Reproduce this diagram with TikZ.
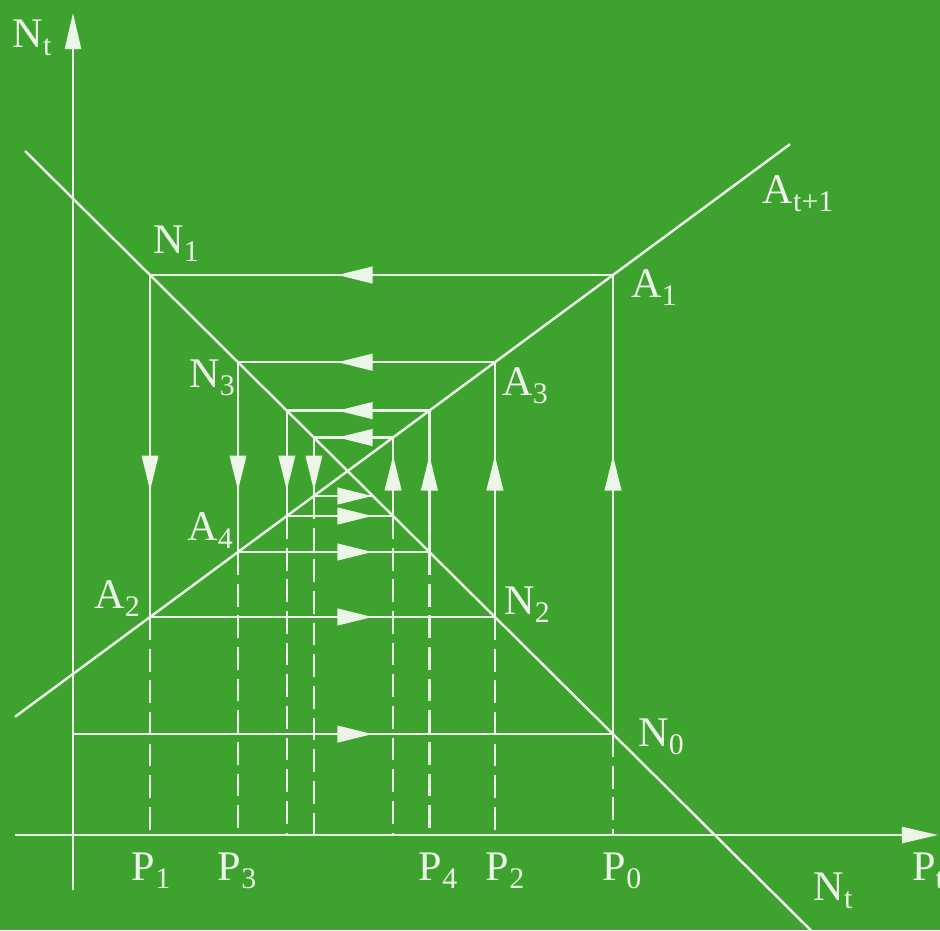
\documentclass[tikz,border=0pt]{standalone}
\usepackage{fontspec}
\setmainfont{Liberation Serif}
\usetikzlibrary{arrows.meta,calc}
\definecolor{felt}{RGB}{62,162,46}
\definecolor{chalk}{RGB}{236,246,232}
\tikzset{
  ax/.style={chalk,line width=0.7pt,-{Triangle[length=0.36cm,width=0.16cm]}},
  ln/.style={chalk,line width=0.7pt},
  cob/.style={chalk,line width=0.7pt},
  drop/.style={chalk,line width=0.7pt,dash pattern=on 6.5pt off 2.5pt},
  head/.style={chalk,line width=0.7pt,-{Triangle[length=0.35cm,width=0.165cm]}},
  lab/.style={text=chalk,inner sep=0pt,anchor=base,font=\fontsize{12}{14}\selectfont}
}
\newcommand{\lowsub}[1]{\raisebox{-2.5pt}{\fontsize{8.5}{10}\selectfont #1}}
\newcommand{\cobstep}[2]{\draw[cob] (#1) -- (#2);
  \path ($(#1)!(mid)!(#2)$) coordinate (h);
  \draw[head] ($(h)!0.175cm!(#1)$) -- ($(h)!0.175cm!(#2)$);}

\begin{document}
\begin{tikzpicture}[x=0.01cm,y=-0.01cm]
\fill[felt] (0,0) rectangle (940,930);
\useasboundingbox (0,0) rectangle (940,930);
% axes
\coordinate (O) at (73,835);
\coordinate (ybot) at (73,890); \coordinate (ytop) at (73,13);
\coordinate (xlft) at (15,835); \coordinate (xrgt) at (938,835);
\draw[ax] (ybot) -- (ytop);
\draw[ax] (xlft) -- (xrgt);
% the two lines
\coordinate (a0) at (15,716.8); \coordinate (a1) at (790,144.2);
\coordinate (n0) at (25,151); \coordinate (n1) at (815,934.4);
\draw[ln] (a0) -- (a1); \draw[ln] (n0) -- (n1);
% cobweb corners
\coordinate (mid) at (355,473);
\coordinate (N0) at (613,734.1); \coordinate (A1) at (613,275.0);
\coordinate (N1) at (150.1,275.0); \coordinate (A2) at (150.1,617.0);
\coordinate (N2) at (494.9,617.0); \coordinate (A3) at (494.9,362.2);
\coordinate (N3) at (238.0,362.2); \coordinate (A4) at (238.0,552.0);
\coordinate (N4) at (429.4,552.0); \coordinate (A5) at (429.4,410.6);
\coordinate (N5) at (286.8,410.6); \coordinate (A6) at (286.8,516.0);
\coordinate (N6) at (393.1,516.0); \coordinate (A7) at (393.1,437.5);
\coordinate (N7) at (313.9,437.5); \coordinate (A8) at (313.9,496.0);
\coordinate (N8) at (372.9,496.0);
\coordinate (s) at (N0 -| O);
\cobstep{s}{N0} \cobstep{N0}{A1} \cobstep{A1}{N1} \cobstep{N1}{A2}
\cobstep{A2}{N2} \cobstep{N2}{A3} \cobstep{A3}{N3} \cobstep{N3}{A4}
\cobstep{A4}{N4} \cobstep{N4}{A5} \cobstep{A5}{N5} \cobstep{N5}{A6}
\cobstep{A6}{N6} \cobstep{N6}{A7} \cobstep{A7}{N7} \cobstep{N7}{A8}
\cobstep{A8}{N8}
% drops to the price axis
\draw[drop] (N0) -- (N0 |- O); \draw[drop] (A2) -- (A2 |- O);
\draw[drop] (N2) -- (N2 |- O); \draw[drop] (A4) -- (A4 |- O);
\draw[drop] (N4) -- (N4 |- O); \draw[drop] (A6) -- (A6 |- O);
\draw[drop] (N6) -- (N6 |- O); \draw[drop] (A8) -- (A8 |- O);
% labels
\node[lab] (tNy) at (32,47) {N\lowsub{t}};
\node[lab] (tA) at (798,203) {A\lowsub{t+1}};
\node[lab] (tA1) at (654,297) {A\lowsub{1}};
\node[lab] (tN1) at (176,253) {N\lowsub{1}};
\node[lab] (tN3) at (212,387) {N\lowsub{3}};
\node[lab] (tA3) at (525,395) {A\lowsub{3}};
\node[lab] (tA4) at (210,540) {A\lowsub{4}};
\node[lab] (tA2) at (117,608) {A\lowsub{2}};
\node[lab] (tN2) at (527,614) {N\lowsub{2}};
\node[lab] (tN0) at (661,746) {N\lowsub{0}};
\node[lab] (tNx) at (833,900) {N\lowsub{t}};
\node[lab] (tPx) at (928,880) {P\lowsub{t}};
\node[lab] (tP1) at (151,880) {P\lowsub{1}};
\node[lab] (tP3) at (237,880) {P\lowsub{3}};
\node[lab] (tP4) at (438,880) {P\lowsub{4}};
\node[lab] (tP2) at (505,880) {P\lowsub{2}};
\node[lab] (tP0) at (622,880) {P\lowsub{0}};
\end{tikzpicture}
\end{document}
